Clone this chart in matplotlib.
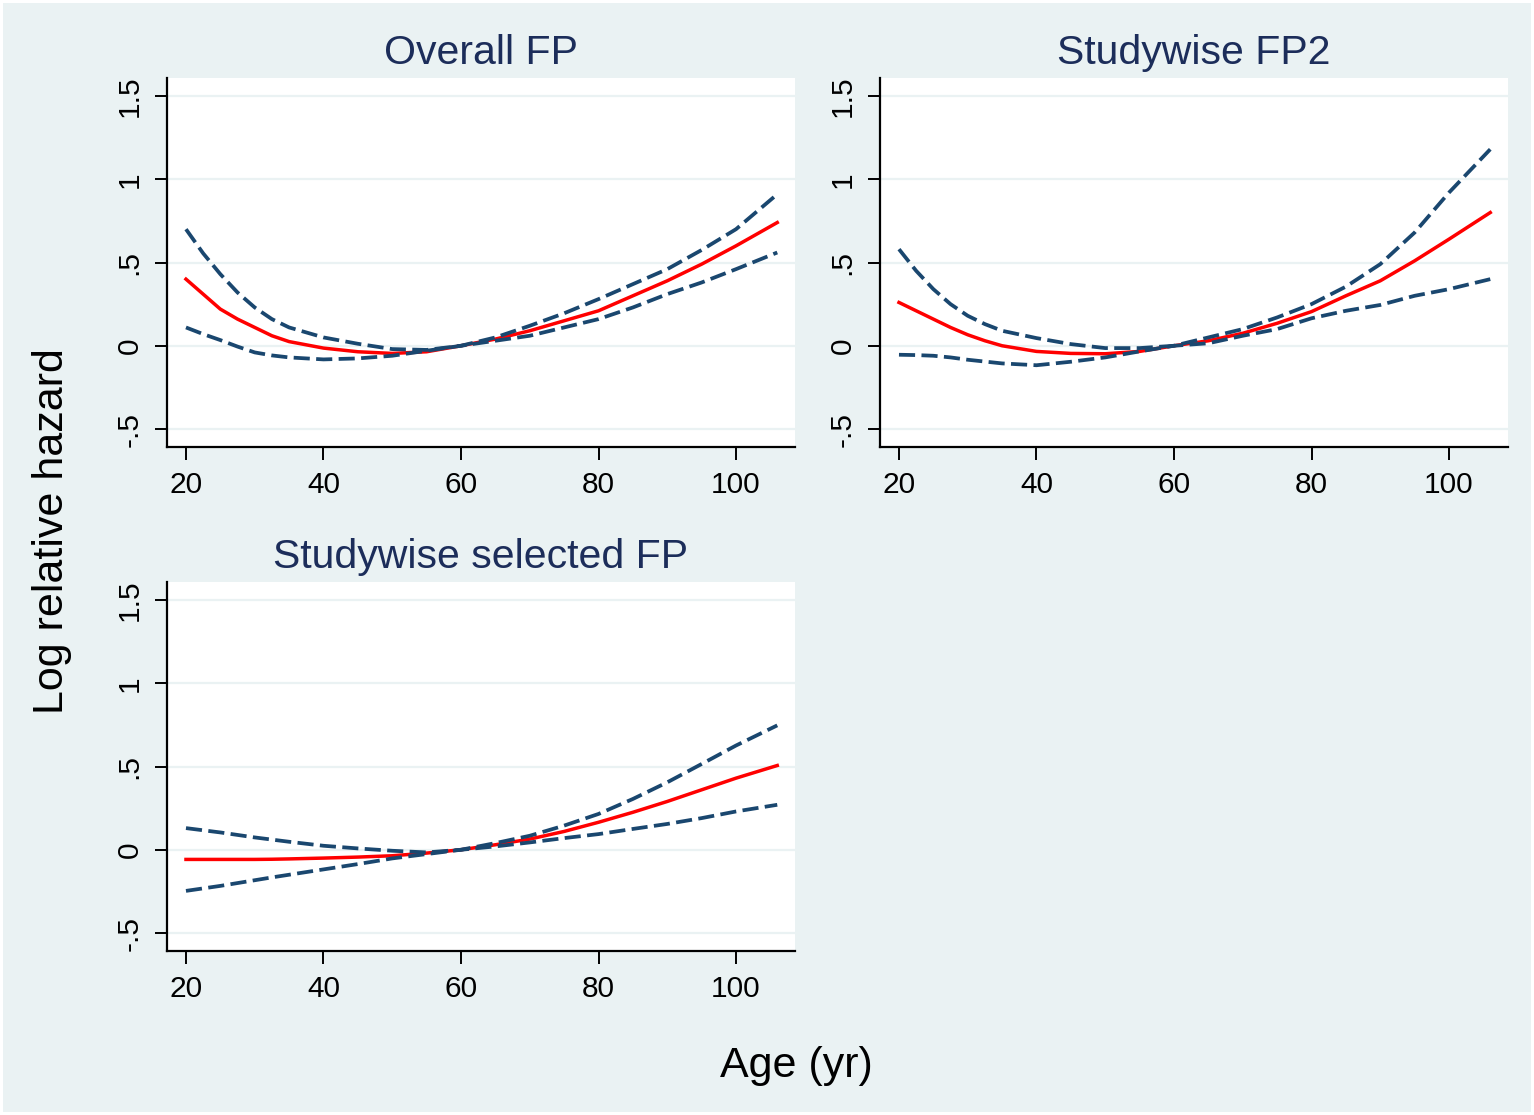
import matplotlib
matplotlib.use("Agg")
import matplotlib.pyplot as plt

# ---------------- data ----------------
age = [20, 22.5, 25, 27.5, 30, 32.5, 35, 40, 45, 50, 55, 60, 65, 70, 75, 80,
       85, 90, 95, 100, 106]

titles = ["Overall FP", "Studywise FP2", "Studywise selected FP"]

overall_fit = [0.40, 0.31, 0.22, 0.16, 0.11, 0.06, 0.025, -0.014, -0.036,
               -0.046, -0.036, 0.0, 0.04, 0.09, 0.15, 0.21, 0.30, 0.39, 0.49,
               0.60, 0.74]
overall_hi = [0.70, 0.555, 0.43, 0.32, 0.23, 0.16, 0.11, 0.05, 0.012, -0.02,
              -0.025, 0.0, 0.05, 0.12, 0.195, 0.28, 0.37, 0.46, 0.575, 0.70,
              0.91]
overall_lo = [0.11, 0.07, 0.034, -0.005, -0.04, -0.058, -0.07, -0.082, -0.076,
              -0.06, -0.03, 0.0, 0.03, 0.06, 0.11, 0.16, 0.23, 0.31, 0.38,
              0.46, 0.56]

fp2_fit = [0.26, 0.21, 0.16, 0.11, 0.066, 0.03, 0.0, -0.034, -0.046, -0.048,
           -0.034, 0.0, 0.03, 0.075, 0.135, 0.205, 0.30, 0.39, 0.51, 0.64,
           0.80]
fp2_hi = [0.58, 0.45, 0.34, 0.25, 0.18, 0.13, 0.09, 0.046, 0.01, -0.014,
          -0.014, 0.0, 0.05, 0.10, 0.17, 0.25, 0.355, 0.49, 0.68, 0.92, 1.18]
fp2_lo = [-0.054, -0.056, -0.06, -0.07, -0.084, -0.095, -0.106, -0.117,
          -0.096, -0.07, -0.034, 0.0, 0.015, 0.06, 0.10, 0.165, 0.21, 0.245,
          0.30, 0.34, 0.40]

sel_fit = [-0.058, -0.058, -0.058, -0.058, -0.058, -0.057, -0.055, -0.05,
           -0.044, -0.036, -0.02, 0.0, 0.03, 0.064, 0.11, 0.165, 0.225, 0.29,
           0.36, 0.43, 0.506]
sel_hi = [0.13, 0.117, 0.104, 0.089, 0.074, 0.061, 0.048, 0.024, 0.008,
          -0.006, -0.016, 0.0, 0.04, 0.084, 0.145, 0.215, 0.305, 0.405, 0.515,
          0.626, 0.747]
sel_lo = [-0.247, -0.232, -0.217, -0.2, -0.183, -0.166, -0.15, -0.118,
          -0.086, -0.052, -0.026, 0.0, 0.02, 0.044, 0.07, 0.094, 0.125, 0.155,
          0.19, 0.23, 0.27]

xticks = [20, 40, 60, 80, 100]
yticks = [-0.5, 0, 0.5, 1, 1.5]
ytick_labels = ["-.5", "0", ".5", "1", "1.5"]

panels = [
    (overall_fit, overall_hi, overall_lo),
    (fp2_fit, fp2_hi, fp2_lo),
    (sel_fit, sel_hi, sel_lo),
]

# ---------------- style ----------------
BG = "#eaf2f3"
NAVY = "#1a476f"
RED = "#ff0000"
TITLE_C = "#1c2d5a"
plt.rcParams["font.family"] = ["Liberation Sans", "DejaVu Sans"]

W, H = 1534, 1115
fig = plt.figure(figsize=(W / 100, H / 100), dpi=100)
fig.patch.set_facecolor(BG)
fig.patch.set_edgecolor("white")
fig.patch.set_linewidth(3)

def px_rect(left, top, right, bottom):
    return [left / W, 1 - bottom / H, (right - left) / W, (bottom - top) / H]

rects = [
    px_rect(167, 78, 795, 447),
    px_rect(880, 78, 1508, 447),
    px_rect(167, 582, 795, 951),
]

for (fit, hi, lo), title, rect in zip(panels, titles, rects):
    ax = fig.add_axes(rect)
    ax.set_facecolor("white")
    ax.set_xlim(17.24, 108.58)
    ax.set_ylim(-0.608, 1.608)
    for yv in yticks:
        ax.axhline(yv, color=BG, lw=1.6, zorder=1)
    ax.plot(age, fit, color=RED, lw=2.5, zorder=3)
    for ci in (hi, lo):
        ax.plot(age, ci, color=NAVY, lw=2.7, dashes=(4.3, 1.7), zorder=4)
    for s in ("top", "right"):
        ax.spines[s].set_visible(False)
    for s in ("left", "bottom"):
        ax.spines[s].set_color("black")
        ax.spines[s].set_linewidth(1.6)
    ax.set_xticks(xticks)
    ax.set_xticklabels([str(v) for v in xticks])
    ax.set_yticks(yticks)
    ax.set_yticklabels(ytick_labels, rotation=90, va="center")
    ax.tick_params(axis="both", direction="out", length=9, width=1.4,
                   color="black", labelsize=21.5, labelcolor="black")
    ax.tick_params(axis="x", pad=8)
    ax.tick_params(axis="y", pad=8)
    ax.set_title(title, fontsize=29.5, color=TITLE_C, pad=10)

fig.text(52 / W, 1 - 531 / H, "Log relative hazard", rotation=90,
         ha="center", va="center", fontsize=31, color="black")
fig.text(796 / W, 1 - 1077 / H, "Age (yr)", ha="center", va="baseline",
         fontsize=31, color="black")

fig.savefig("out.png", dpi=100, facecolor=fig.get_facecolor(),
            edgecolor="white")
